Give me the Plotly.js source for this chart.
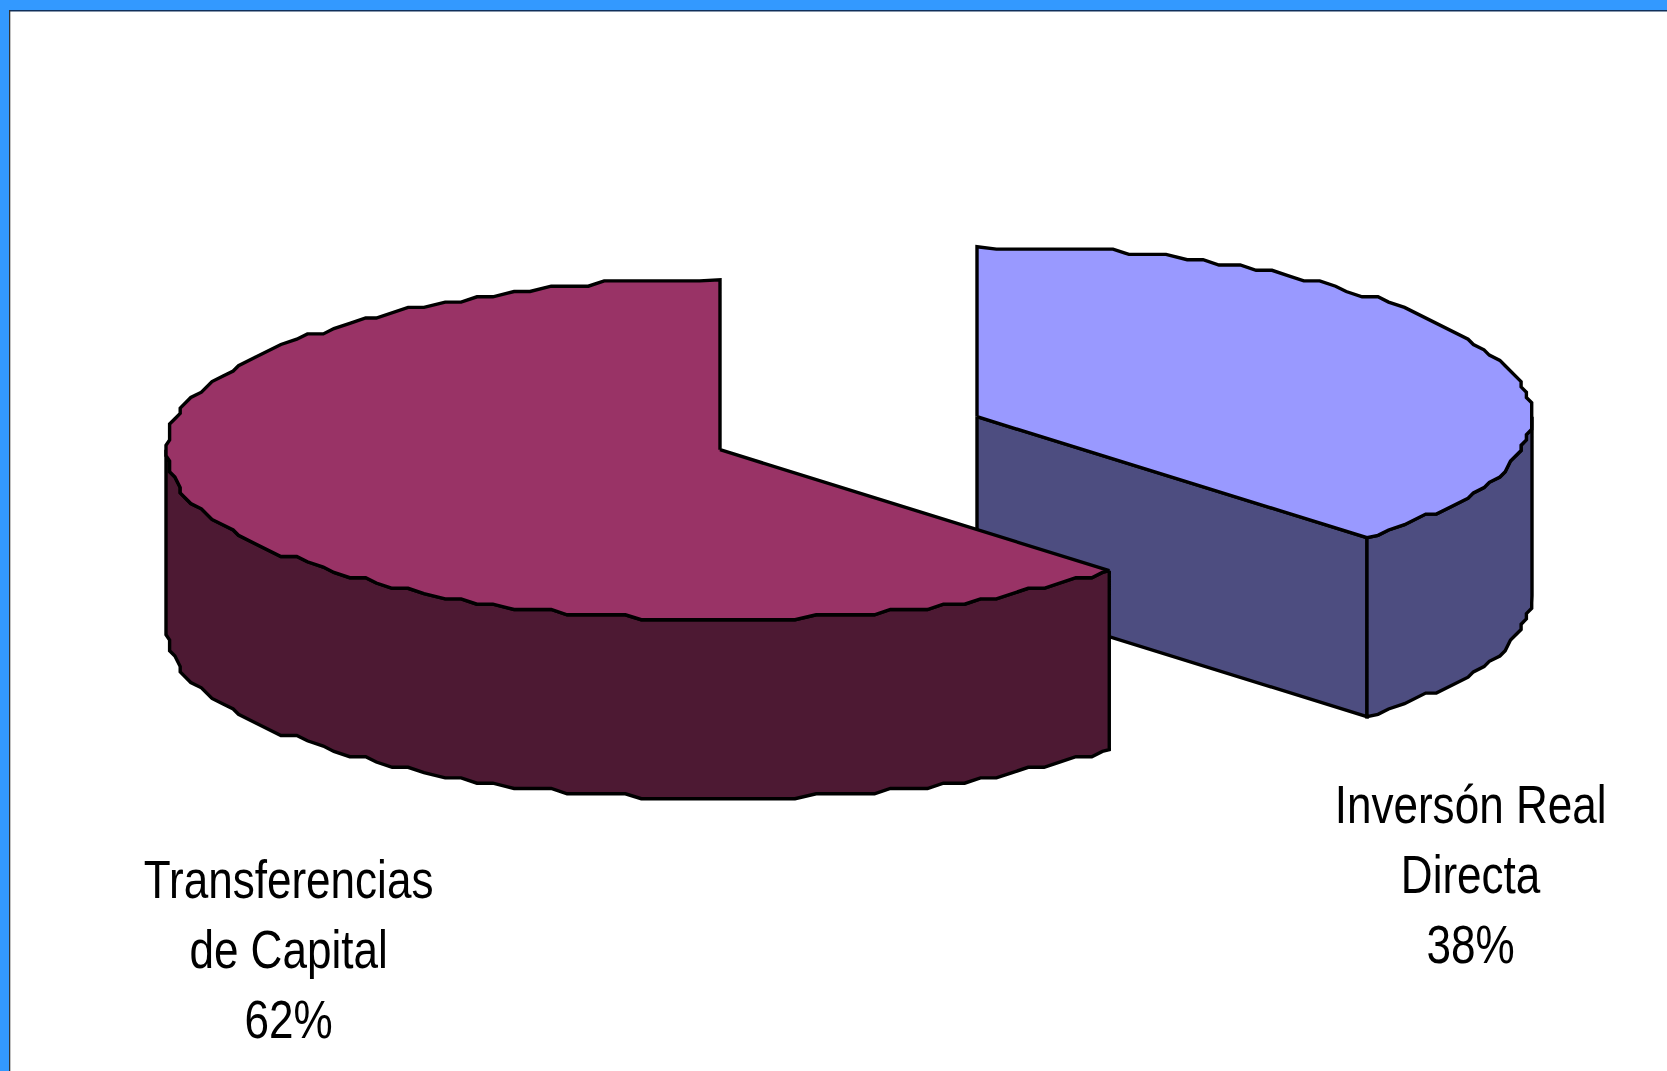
<!DOCTYPE html>
<html>
<head>
<meta charset="utf-8">
<script src="https://cdn.plot.ly/plotly-3.0.1.min.js"></script>
<style>html,body{margin:0;padding:0;background:#fff;overflow:hidden}#chart{width:1667px;height:1071px}</style>
</head>
<body>
<div id="chart"></div>
<script>
// Data
const categories = ["Transferencias<br>de Capital", "Inversón Real<br>Directa"];
const shareLabels = ["62%", "38%"];
const shares = [62.4, 37.6];
const topColors = ["#993366", "#9999FF"];
const sideColors = ["#4D1933", "#4D4D80"];

// Projection of the tilted pie
const W = 1667, H = 1071;
const centers = [[720, 449.7], [977, 416.7]];
const radiusX = [554, 555], radiusY = 170, depth = 179;
const gridStep = 5.3, angleStep = 2;
const labelPos = [[288, 948.5], [1470.5, 873.5]];
const textSqueeze = 0.816;
const lineStyle = {color: "#000", width: 3.4};

const endAngle = shares[1] / 100 * 360;
const snap = v => Math.round(v / gridStep) * gridStep;
const clamp = (v, lo, hi) => Math.min(hi, Math.max(lo, v));

function point(i, a, dy) {
  const t = a * Math.PI / 180;
  return [centers[i][0] + radiusX[i] * Math.sin(t), centers[i][1] - radiusY * Math.cos(t) + dy];
}
// Rim samples sit on one shared angle grid, so a wall and its top face follow the same outline.
function rim(i, a0, a1, dy) {
  const [cx, cy] = centers[i];
  const lo = Math.min(a0, a1), hi = Math.max(a0, a1);
  const pts = [point(i, lo, dy)];
  for (let k = Math.floor(lo / angleStep) + 1; k * angleStep < hi; k++) {
    const p = point(i, k * angleStep, dy);
    p[0] = clamp(snap(p[0]), cx - radiusX[i], cx + radiusX[i]);
    p[1] = clamp(snap(p[1] - dy), cy - radiusY, cy + radiusY) + dy;
    pts.push(p);
  }
  pts.push(point(i, hi, dy));
  return a0 <= a1 ? pts : pts.reverse();
}
function poly(points, fill, name) {
  return {
    type: "scatter", mode: "lines", name: name,
    x: points.map(p => p[0]), y: points.map(p => p[1]),
    fill: "toself", fillcolor: fill, line: {color: lineStyle.color, width: lineStyle.width, join: "round"},
    hoverinfo: "name", showlegend: false
  };
}
const plain = s => s.replace("<br>", " ");
const traces = [];

// Right slice (behind)
{
  const [cx, cy] = centers[1];
  const corner = point(1, endAngle, 0);
  traces.push(poly([[cx, cy], corner, [corner[0], corner[1] + depth], [cx, cy + depth], [cx, cy]], sideColors[1], plain(categories[1])));
  const top = rim(1, 90, endAngle, 0), bottom = rim(1, endAngle, 90, depth);
  traces.push(poly(top.concat(bottom, [top[0]]), sideColors[1], plain(categories[1])));
  traces.push(poly([[cx, cy]].concat(rim(1, 0, endAngle, 0), [[cx, cy]]), topColors[1], plain(categories[1])));
}
// Left slice (in front)
{
  const [cx, cy] = centers[0];
  const top = rim(0, endAngle, 270, 0), bottom = rim(0, 270, endAngle, depth);
  traces.push(poly(top.concat(bottom, [top[0]]), sideColors[0], plain(categories[0])));
  traces.push(poly([[cx, cy]].concat(rim(0, endAngle, 360, 0), [[cx, cy]]), topColors[0], plain(categories[0])));
}

const annotations = categories.map((c, i) => ({
  text: c + "<br>" + shareLabels[i],
  x: labelPos[i][0], y: labelPos[i][1], xref: "x", yref: "y",
  xanchor: "center", yanchor: "middle", showarrow: false, align: "center",
  font: {family: "'Liberation Sans', Arial, sans-serif", size: 54, color: "#000"}
}));

const shapes = [
  {type: "rect", xref: "x", yref: "y", x0: 0, x1: W, y0: 0, y1: 10, fillcolor: "#3399FF", line: {width: 0}, layer: "above"},
  {type: "rect", xref: "x", yref: "y", x0: 0, x1: 9, y0: 0, y1: H, fillcolor: "#3399FF", line: {width: 0}, layer: "above"},
  {type: "rect", xref: "x", yref: "y", x0: 9, x1: W, y0: 10, y1: 11.5, fillcolor: "#10305A", line: {width: 0}, layer: "above"},
  {type: "rect", xref: "x", yref: "y", x0: 9, x1: 10.3, y0: 10, y1: H, fillcolor: "#333333", line: {width: 0}, layer: "above"}
];

Plotly.newPlot("chart", traces, {
  width: W, height: H,
  margin: {l: 0, r: 0, t: 0, b: 0},
  paper_bgcolor: "#fff", plot_bgcolor: "#fff",
  xaxis: {range: [0, W], visible: false, fixedrange: true},
  yaxis: {range: [H, 0], visible: false, fixedrange: true},
  showlegend: false, annotations: annotations, shapes: shapes
}, {displayModeBar: false, staticPlot: true}).then(() => {
  // The reference uses a condensed face: narrow the real text horizontally around its own centre.
  document.querySelectorAll("#chart .annotation-text").forEach(el => {
    const b = el.getBBox();
    const cx = b.x + b.width / 2;
    el.setAttribute("transform", `translate(${cx} 0) scale(${textSqueeze} 1) translate(${-cx} 0)`);
  });
});
</script>
</body>
</html>
